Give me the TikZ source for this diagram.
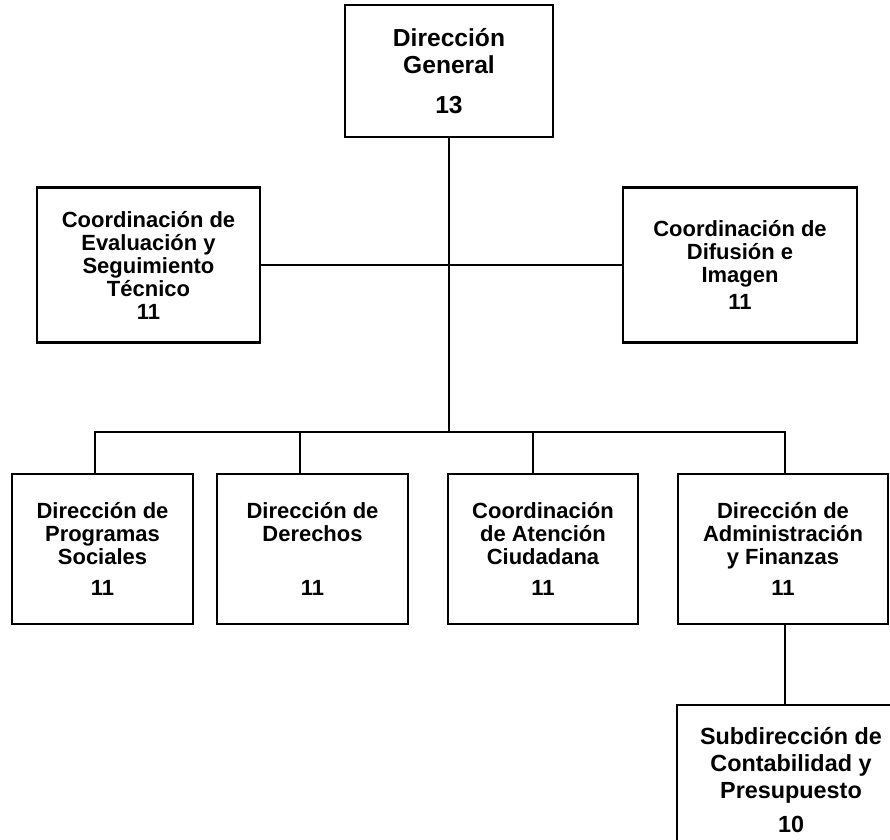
\documentclass[tikz,border=0pt]{standalone}
\usepackage{fontspec}
\setmainfont{Liberation Sans}

\begin{document}
\begin{tikzpicture}[
    unit/.style={rectangle, draw=black, line width=1.2pt, fill=white, align=center, inner sep=2pt, minimum height=3cm, font=\bfseries\fontsize{12.5}{13.1}\selectfont},
    link/.style={line width=1.2pt, draw=black}]
    \useasboundingbox (0, 0) rectangle (17.8, 16.8);
    \clip (0, 0) rectangle (17.8, 16.8);
    \node (general) [unit, minimum width=4.16cm, minimum height=2.64cm, font=\bfseries\fontsize{14}{15.4}\selectfont] at (8.98, 15.38) {Dirección\\General\\[7pt]13};
    \node (evaluacion) [unit, minimum width=4.46cm, minimum height=3.1cm] at (2.97, 11.5) {Coordinación de\\Evaluación y\\Seguimiento\\Técnico\\11};
    \node (difusion) [unit, minimum width=4.68cm, minimum height=3.1cm] at (14.8, 11.5) {Coordinación de\\Difusión e\\Imagen\\[2.5pt]11};
    \node (programas) [unit, minimum width=3.62cm] at (2.05, 5.82) {Dirección de\\Programas\\Sociales\\[5pt]11};
    \node (derechos) [unit, minimum width=3.82cm] at (6.25, 5.82) {Dirección de\\Derechos\\[18pt]11};
    \node (atencion) [unit, minimum width=3.8cm] at (10.86, 5.82) {Coordinación\\de Atención\\Ciudadana\\[5pt]11};
    \node (admin) [unit, minimum width=4.2cm] at (15.66, 5.82) {Dirección de\\Administración\\y Finanzas\\[5pt]11};
    \node (contab) [unit, minimum width=4.56cm, font=\bfseries\fontsize{13.3}{15.2}\selectfont] at (15.82, 1.2) {Subdirección de\\Contabilidad y\\Presupuesto\\[4pt]10};
    \coordinate (bus) at (8.98, 8.16);
    \draw [link] (general) -- (bus);
    \draw [link] (evaluacion) -- (difusion);
    \draw [link] (bus) -| ([xshift=-0.15cm]programas.north);
    \draw [link] (bus) -| ([xshift=-0.25cm]derechos.north);
    \draw [link] (bus) -| ([xshift=-0.2cm]atencion.north);
    \draw [link] (bus) -| ([xshift=0.04cm]admin.north);
    \draw [link] ([xshift=0.04cm]admin.south) -- ([xshift=0.04cm]admin.south |- contab.north);
\end{tikzpicture}
\end{document}
